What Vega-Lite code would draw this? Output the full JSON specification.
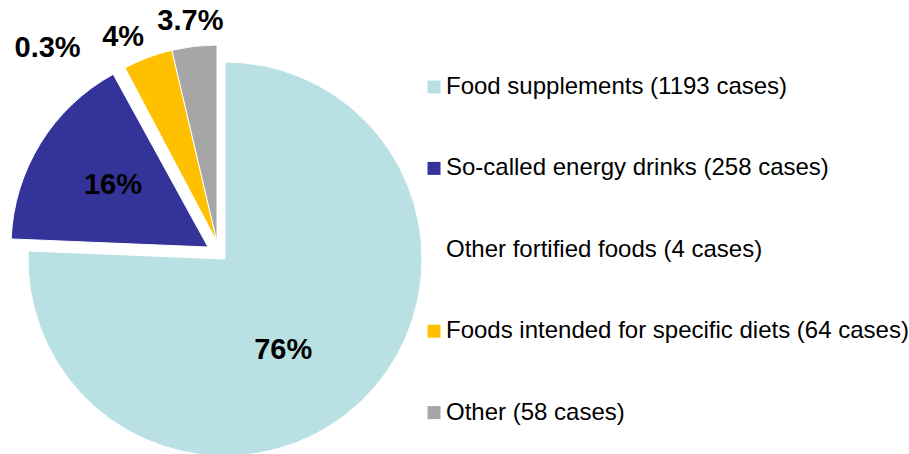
{
  "$schema": "https://vega.github.io/schema/vega-lite/v6.json",
  "width": 450,
  "height": 454,
  "autosize": {"type": "none"},
  "padding": {"left": 0, "top": 0, "right": 459, "bottom": 0},
  "background": "white",
  "data": {
    "values": [
      {"category": "Food supplements (1193 cases)", "cases": 1193, "label": "76%"},
      {"category": "So-called energy drinks (258 cases)", "cases": 258, "label": "16%"},
      {"category": "Other fortified foods (4 cases)", "cases": 4, "label": "0.3%"},
      {"category": "Foods intended for specific diets (64 cases)", "cases": 64, "label": "4%"},
      {"category": "Other (58 cases)", "cases": 58, "label": "3.7%"}
    ]
  },
  "transform": [
    {"stack": "cases", "groupby": [], "offset": "normalize", "as": ["t0", "t1"]},
    {"calculate": "(datum.t0 + datum.t1) / 2", "as": "tm"}
  ],
  "encoding": {
    "color": {
      "field": "category",
      "type": "nominal",
      "scale": {
        "domain": [
          "Food supplements (1193 cases)",
          "So-called energy drinks (258 cases)",
          "Other fortified foods (4 cases)",
          "Foods intended for specific diets (64 cases)",
          "Other (58 cases)"
        ],
        "range": ["#B9E0E3", "#343399", "#FFFFFF", "#FFC000", "#A6A6A6"]
      },
      "legend": {"title": null}
    }
  },
  "layer": [
    {
      "transform": [{"filter": "datum.category == 'Food supplements (1193 cases)'"}],
      "mark": {"type": "arc", "outerRadius": 197, "xOffset": 0, "yOffset": 32, "stroke": "white", "strokeWidth": 1},
      "encoding": {
        "theta": {"field": "t0", "type": "quantitative", "scale": {"domain": [0, 1], "range": [0, 6.283185307179586]}},
        "theta2": {"field": "t1"}
      }
    },
    {
      "transform": [{"filter": "datum.category == 'So-called energy drinks (258 cases)'"}],
      "mark": {"type": "arc", "outerRadius": 197, "xOffset": -17, "yOffset": 20, "stroke": "white", "strokeWidth": 1},
      "encoding": {
        "theta": {"field": "t0", "type": "quantitative", "scale": {"domain": [0, 1], "range": [0, 6.283185307179586]}},
        "theta2": {"field": "t1"}
      }
    },
    {
      "transform": [{"filter": "datum.category != 'Food supplements (1193 cases)' && datum.category != 'So-called energy drinks (258 cases)'"}],
      "mark": {"type": "arc", "outerRadius": 197, "xOffset": -8, "yOffset": 15, "stroke": "white", "strokeWidth": 1},
      "encoding": {
        "theta": {"field": "t0", "type": "quantitative", "scale": {"domain": [0, 1], "range": [0, 6.283185307179586]}},
        "theta2": {"field": "t1"}
      }
    },
    {
      "transform": [{"filter": "datum.category == 'Food supplements (1193 cases)'"}],
      "mark": {"type": "text", "radius": 110, "xOffset": -18, "yOffset": 44, "font": "Liberation Sans", "fontWeight": "bold", "fontSize": 29, "align": "center", "baseline": "middle"},
      "encoding": {
        "theta": {"field": "tm", "type": "quantitative", "scale": {"domain": [0, 1], "range": [0, 6.283185307179586]}},
        "text": {"field": "label"},
        "color": {"value": "black"}
      }
    },
    {
      "transform": [{"filter": "datum.category == 'So-called energy drinks (258 cases)'"}],
      "mark": {"type": "text", "radius": 113, "xOffset": -16, "yOffset": 18, "font": "Liberation Sans", "fontWeight": "bold", "fontSize": 29, "align": "center", "baseline": "middle"},
      "encoding": {
        "theta": {"field": "tm", "type": "quantitative", "scale": {"domain": [0, 1], "range": [0, 6.283185307179586]}},
        "text": {"field": "label"},
        "color": {"value": "black"}
      }
    },
    {
      "transform": [{"filter": "datum.category == 'Other fortified foods (4 cases)'"}],
      "mark": {"type": "text", "radius": 235, "xOffset": -66, "yOffset": 28, "font": "Liberation Sans", "fontWeight": "bold", "fontSize": 29, "align": "center", "baseline": "middle"},
      "encoding": {
        "theta": {"field": "tm", "type": "quantitative", "scale": {"domain": [0, 1], "range": [0, 6.283185307179586]}},
        "text": {"field": "label"},
        "color": {"value": "black"}
      }
    },
    {
      "transform": [{"filter": "datum.category == 'Foods intended for specific diets (64 cases)'"}],
      "mark": {"type": "text", "radius": 222, "xOffset": -24, "yOffset": 18, "font": "Liberation Sans", "fontWeight": "bold", "fontSize": 29, "align": "center", "baseline": "middle"},
      "encoding": {
        "theta": {"field": "tm", "type": "quantitative", "scale": {"domain": [0, 1], "range": [0, 6.283185307179586]}},
        "text": {"field": "label"},
        "color": {"value": "black"}
      }
    },
    {
      "transform": [{"filter": "datum.category == 'Other (58 cases)'"}],
      "mark": {"type": "text", "radius": 222, "xOffset": -9, "yOffset": 15, "font": "Liberation Sans", "fontWeight": "bold", "fontSize": 29, "align": "center", "baseline": "middle"},
      "encoding": {
        "theta": {"field": "tm", "type": "quantitative", "scale": {"domain": [0, 1], "range": [0, 6.283185307179586]}},
        "text": {"field": "label"},
        "color": {"value": "black"}
      }
    }
  ],
  "config": {
    "view": {"stroke": null},
    "legend": {
      "orient": "none",
      "legendX": 422,
      "legendY": 75,
      "padding": 0,
      "labelFont": "Liberation Sans",
      "labelFontSize": 24,
      "labelColor": "#000000",
      "labelLimit": 0,
      "labelOffset": 0,
      "symbolType": "square",
      "symbolSize": 169,
      "symbolStrokeWidth": 0,
      "rowPadding": 57.4
    }
  }
}
